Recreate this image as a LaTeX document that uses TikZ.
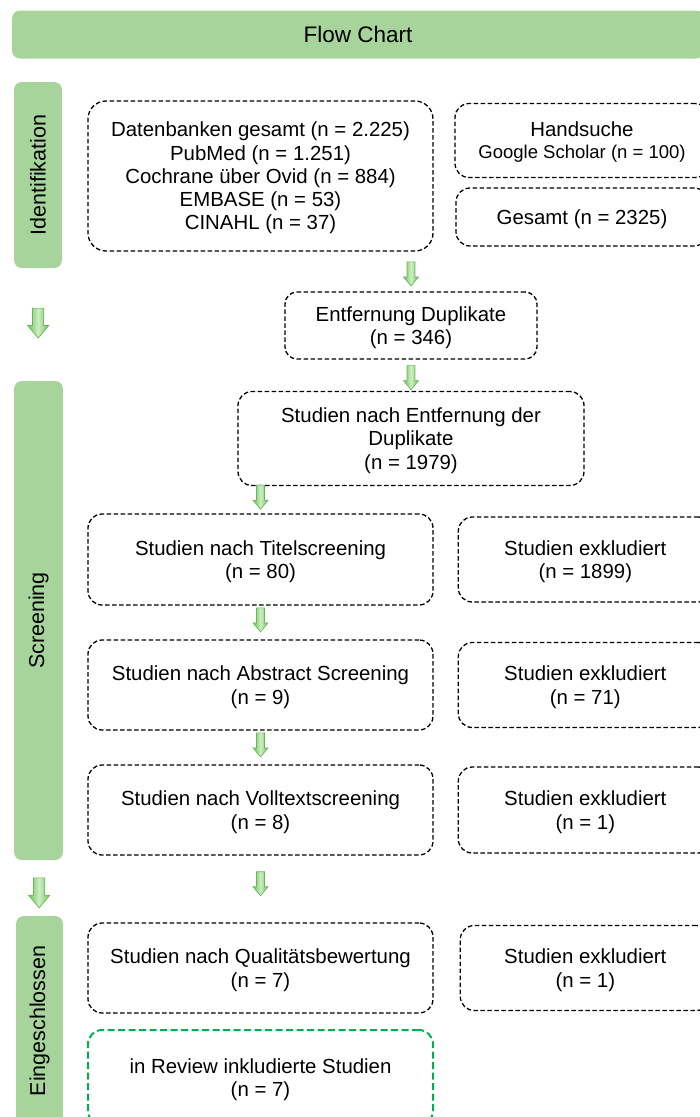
\documentclass[tikz,border=0pt]{standalone}
\usepackage{fontspec}
\setmainfont{Liberation Sans}
\usetikzlibrary{positioning,shapes.arrows}

\definecolor{barfill}{RGB}{167,212,154}
\definecolor{arrlight}{RGB}{205,238,195}
\definecolor{arrdark}{RGB}{112,192,92}
\definecolor{arrline}{RGB}{104,184,86}
\definecolor{okgreen}{RGB}{0,176,80}

\tikzset{
  txt/.style={font=\fontsize{20.4}{23.3}\selectfont},
  box/.style={txt, draw, dash pattern=on 4.5pt off 2.5pt, line width=1.3pt,
    rounded corners=14pt, align=center, inner sep=0pt, text depth=0pt},
  bar/.style={fill=barfill, rounded corners=8pt, inner sep=0pt},
  side/.style={bar, rotate=90, font=\fontsize{21.5}{24}\selectfont},
  darr/.style={single arrow, rotate=-90, draw=arrline, line width=0.7pt,
    minimum height=24pt, minimum width=0pt, inner xsep=0pt, inner ysep=3.6pt,
    single arrow head extend=3.5pt, single arrow tip angle=80,
    left color=arrdark, right color=arrdark, middle color=arrlight},
  bigarr/.style={darr, minimum height=30pt, inner ysep=5.3pt,
    single arrow head extend=5pt}
}

\begin{document}
\begin{tikzpicture}[x=1pt,y=-1pt]

            \useasboundingbox (0,0) rectangle (700,1117);

            \clip (0,0) rectangle (700,1117);

            \node[bar, minimum width=692pt, minimum height=48pt, font=\fontsize{22.5}{26}\selectfont] (title) at (358,34.5) {Flow Chart};

            \node[side, minimum width=186pt, minimum height=48pt] (sid) at (38,175) {Identifikation};

            \node[side, minimum width=479pt, minimum height=49pt] (sscr) at (38.5,620.5) {Screening};

            \node[side, minimum width=210pt, minimum height=47pt] (sein) at (39.5,1021) {Eingeschlossen};

            \node[box, minimum width=345pt, minimum height=150pt, rounded corners=18pt] (db) at (260.5,176)
              {Datenbanken gesamt (n = 2.225)\\PubMed (n = 1.251)\\Cochrane über Ovid (n = 884)\\EMBASE (n = 53)\\CINAHL (n = 37)};

            \node[box, minimum width=254pt, minimum height=74pt, font=\fontsize{20.4}{22}\selectfont] (hand) at (582,140.5)
              {Handsuche\\{\fontsize{18.5}{21}\selectfont Google Scholar (n = 100)}};

            \node[box, minimum width=252pt, minimum height=58pt] (ges) at (582,217) {Gesamt (n = 2325)};

            \node[box, minimum width=252pt, minimum height=67pt, rounded corners=12pt] (dup) at (411,325.5)
              {Entfernung Duplikate\\(n = 346)};

            \node[box, minimum width=346pt, minimum height=94pt] (nach) at (411,438.5)
              {Studien nach Entfernung der\\Duplikate\\(n = 1979)};

            \node[box, minimum width=345pt, minimum height=91pt] (titel) at (260.5,559.5)
              {Studien nach Titelscreening\\(n = 80)};

            \node[box, minimum width=254pt, minimum height=85pt] (ex1) [right=24pt of titel]
              {Studien exkludiert\\(n = 1899)};

            \node[box, minimum width=345pt, minimum height=90pt] (abs) at (260.5,685)
              {Studien nach Abstract Screening\\(n = 9)};

            \node[box, minimum width=254pt, minimum height=85pt] (ex2) [right=24pt of abs]
              {Studien exkludiert\\(n = 71)};

            \node[box, minimum width=345pt, minimum height=90pt] (voll) at (260.5,810)
              {Studien nach Volltextscreening\\(n = 8)};

            \node[box, minimum width=254pt, minimum height=86pt] (ex3) [right=24pt of voll]
              {Studien exkludiert\\(n = 1)};

            \node[box, minimum width=345pt, minimum height=90pt] (qual) at (260.5,968)
              {Studien nach Qualitätsbewertung\\(n = 7)};

            \node[box, minimum width=250pt, minimum height=85pt] (ex4) [right=26pt of qual]
              {Studien exkludiert\\(n = 1)};

            \node[box, draw=okgreen, line width=2pt, dash pattern=on 7pt off 3.5pt, minimum width=345pt, minimum height=95pt] (incl) at (260.5,1077.5)
              {in Review inkludierte Studien\\(n = 7)};

            

            \path (db.south -| dup.north) -- node[darr] {} (dup.north)

                  (dup) -- node[darr] {} (nach)

                  (nach.south -| titel.north) -- node[darr, xshift=-5pt] {} (titel.north)

                  (titel) -- node[darr, xshift=-5pt] {} (abs)

                  (abs) -- node[darr, xshift=-5pt] {} (voll)

                  (voll) -- node[darr, xshift=-5pt, pos=0.46] {} (qual)

                  (sid) -- node[bigarr, pos=0.44, xshift=2pt] {} (sscr)

                  (sscr) -- node[bigarr, xshift=1.5pt] {} (sein);

        \end{tikzpicture}
\end{document}
